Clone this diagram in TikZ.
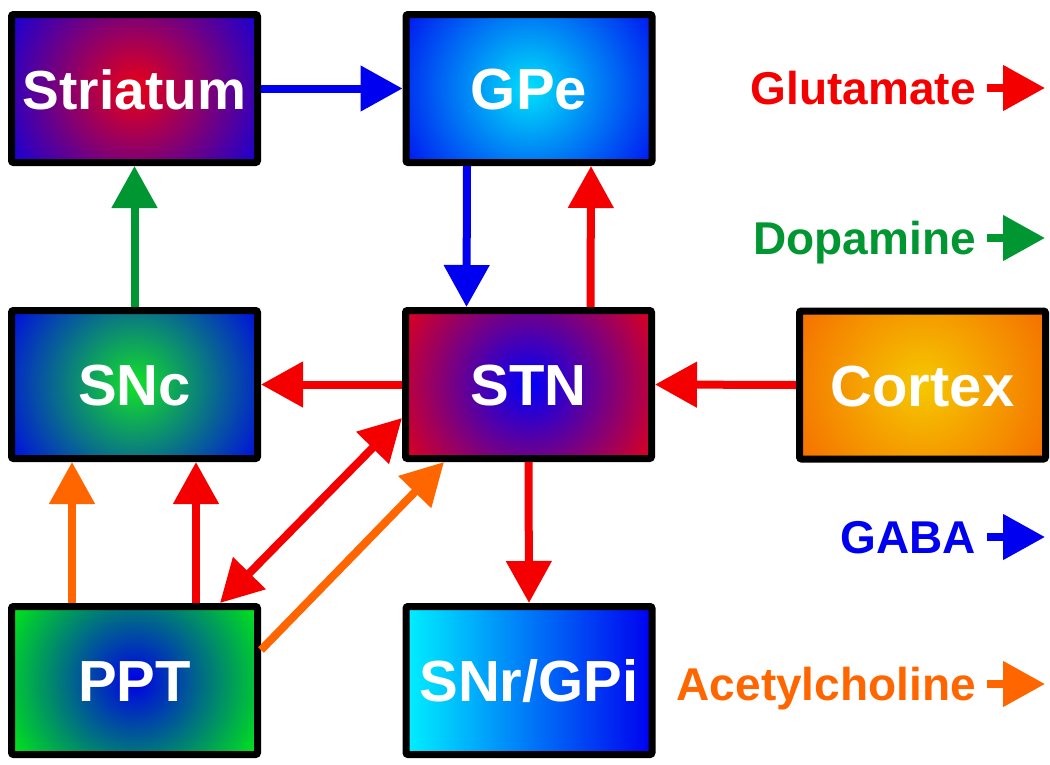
\documentclass[tikz,border=0pt]{standalone}
\usepackage{fontspec}
\setmainfont{Liberation Sans}
\usetikzlibrary{arrows.meta}
\definecolor{cred}{RGB}{245,0,0}
\definecolor{cblue}{RGB}{0,0,240}
\definecolor{cgreen}{RGB}{0,150,50}
\definecolor{corange}{RGB}{255,102,0}
\definecolor{strIn}{RGB}{235,0,20}
\definecolor{strOut}{RGB}{20,0,215}
\definecolor{gpeIn}{RGB}{0,225,250}
\definecolor{gpeOut}{RGB}{0,20,240}
\definecolor{sncIn}{RGB}{20,225,40}
\definecolor{sncOut}{RGB}{0,10,225}
\definecolor{stnIn}{RGB}{0,0,250}
\definecolor{stnOut}{RGB}{225,0,25}
\definecolor{ctxIn}{RGB}{245,200,0}
\definecolor{ctxOut}{RGB}{245,110,0}
\definecolor{pptIn}{RGB}{0,0,230}
\definecolor{pptOut}{RGB}{0,235,20}
\definecolor{snrL}{RGB}{0,240,255}
\definecolor{snrR}{RGB}{0,0,240}
\pgfdeclareradialshading{shStr}{\pgfpointorigin}{color(0bp)=(strIn); color(25bp)=(strOut); color(50bp)=(strOut)}
\pgfdeclareradialshading{shGPe}{\pgfpointorigin}{color(0bp)=(gpeIn); color(25bp)=(gpeOut); color(50bp)=(gpeOut)}
\pgfdeclareradialshading{shSNc}{\pgfpointorigin}{color(0bp)=(sncIn); color(25bp)=(sncOut); color(50bp)=(sncOut)}
\pgfdeclareradialshading{shSTN}{\pgfpointorigin}{color(0bp)=(stnIn); color(25bp)=(stnOut); color(50bp)=(stnOut)}
\pgfdeclareradialshading{shCtx}{\pgfpointorigin}{color(0bp)=(ctxIn); color(25bp)=(ctxOut); color(50bp)=(ctxOut)}
\pgfdeclareradialshading{shPPT}{\pgfpointorigin}{color(0bp)=(pptIn); color(25bp)=(pptOut); color(50bp)=(pptOut)}
\tikzset{
  box/.style={draw=black, line width=7pt, rounded corners=2pt,
    minimum width=246pt, minimum height=148pt, inner sep=0pt,
    text=white, font=\fontsize{58}{60}\selectfont\bfseries,
    text height=42pt, text depth=0pt},
  rshade/.style={path picture={\shade[shading=#1] (path picture bounding box.center) circle (145pt);}},
  arr/.style={line width=8pt, -{Triangle[length=42pt,width=44pt]}},
  darr/.style={line width=8pt, {Triangle[length=42pt,width=44pt]}-{Triangle[length=42pt,width=44pt]}},
  legend/.style={inner sep=0pt, anchor=base east, font=\fontsize{46}{48}\selectfont\bfseries},
}
\begin{document}
\begin{tikzpicture}[x=1pt,y=-1pt]
\useasboundingbox[fill=white] (0,0) rectangle (1050,764);
% boxes
\node[box, rshade=shStr, font=\fontsize{55}{57}\selectfont\bfseries] (str) at (134.5,88.5) {Striatum};
\node[box, rshade=shGPe] (gpe) at (529,88.5) {GPe};
\node[box, rshade=shSNc] (snc) at (134.5,384.5) {SNc};
\node[box, rshade=shSTN] (stn) at (528.5,384.5) {STN};
\node[box, rshade=shCtx] (ctx) at (922.5,385) {Cortex};
\node[box, rshade=shPPT] (ppt) at (134.5,680.5) {PPT};
\node[box, left color=snrL, right color=snrR] (snr) at (529,680.5) {SNr/GPi};
% connectors
\draw[arr, cblue] (str.east) -- (gpe.west);
\draw[arr, cgreen] (snc.north) -- (str.south);
\draw[arr, cblue] ([xshift=-62pt]gpe.south) -- ([xshift=-62pt]stn.north);
\draw[arr, cred] ([xshift=62pt]stn.north) -- ([xshift=62pt]gpe.south);
\draw[arr, cred] (stn.west) -- (snc.east);
\draw[arr, cred] (ctx.west) -- (stn.east);
\draw[arr, cred] (stn.south) -- (snr.north);
\draw[arr, corange] ([xshift=-62.5pt]ppt.north) -- ([xshift=-62.5pt]snc.south);
\draw[arr, cred] ([xshift=61.5pt]ppt.north) -- ([xshift=61.5pt]snc.south);
\draw[darr, cred] ([xshift=85.5pt]ppt.north) -- ([yshift=-33.5pt]stn.west);
\draw[arr, corange] ([yshift=30.5pt]ppt.east) -- ([xshift=-84.5pt]stn.south);
% legend
\node[legend, text=cred] (lglu) at (976,104.5) {Glutamate};
\node[legend, text=cgreen] (ldop) at (976,254.5) {Dopamine};
\node[legend, text=cblue] (lgaba) at (976,553.5) {GABA};
\node[legend, text=corange] (lach) at (976,700.5) {Acetylcholine};
\coordinate (tglu) at (1045,88);
\coordinate (tdop) at (1045,238);
\coordinate (tgaba) at (1045,537);
\coordinate (tach) at (1045,684);
\draw[arr, cred] ([shift={(11pt,16.5pt)}]lglu.base east) -- (tglu);
\draw[arr, cgreen] ([shift={(11pt,16.5pt)}]ldop.base east) -- (tdop);
\draw[arr, cblue] ([shift={(11pt,16.5pt)}]lgaba.base east) -- (tgaba);
\draw[arr, corange] ([shift={(11pt,16.5pt)}]lach.base east) -- (tach);
\end{tikzpicture}
\end{document}
